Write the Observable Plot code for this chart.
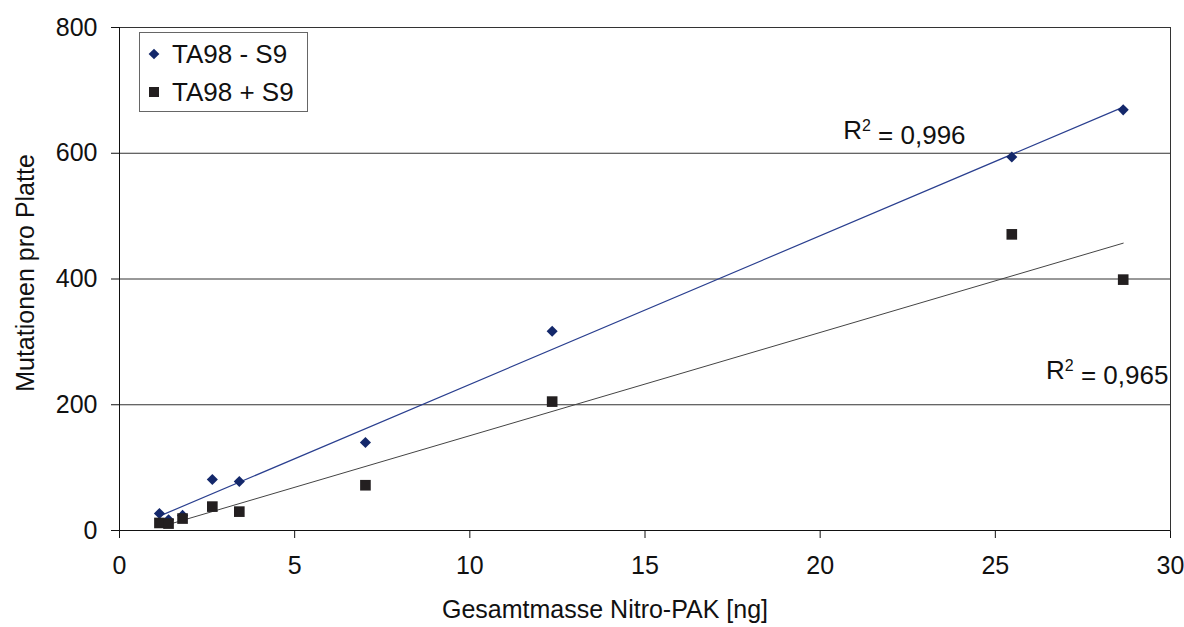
<!DOCTYPE html>
<html>
<head>
<meta charset="utf-8">
<script src="https://cdn.jsdelivr.net/npm/d3@7"></script>
<script src="https://cdn.jsdelivr.net/npm/@observablehq/plot@0.6"></script>
<style>
  html, body { margin: 0; padding: 0; background: #fff; }
  #wrap { position: relative; width: 1184px; height: 627px; font-family: "Liberation Sans", Arial, sans-serif; }
  #legend { position: absolute; left: 139px; top: 32px; width: 169px; height: 80px; border: 1px solid #666; background: #fff; box-sizing: border-box; font-size: 26px; color: #111; }
  .row { position: absolute; left: 7px; display: flex; align-items: center; height: 30px; }
  .row svg { margin-right: 11px; }
</style>
</head>
<body>
<div id="wrap"></div>
<script>
const mass = [1.14, 1.4, 1.8, 2.65, 3.42, 7.02, 12.35, 25.47, 28.65];
const minusS9 = [27, 17, 24, 81, 78, 140, 317, 594, 669];
const plusS9 = [12, 11, 19, 38, 30, 72, 205, 471, 399];
const seriesNames = ["TA98 - S9", "TA98 + S9"];
const r2Labels = ["R\u00b2 = 0,996", "R\u00b2 = 0,965"];
const r2Pos = [{x: 24.15, y: 636}, {x: 29.94, y: 254}];
const yTicks = [0, 200, 400, 600, 800];
const xTicks = [0, 5, 10, 15, 20, 25, 30];

const minusData = mass.map((m, i) => ({x: m, y: minusS9[i]}));
const plusData = mass.map((m, i) => ({x: m, y: plusS9[i]}));

const blue = "#14286b";
const dark = "#231f20";

const chart = Plot.plot({
  width: 1184,
  height: 627,
  marginLeft: 119,
  marginRight: 14,
  marginTop: 27,
  marginBottom: 97,
  style: {fontFamily: "Liberation Sans, Arial, sans-serif", fontSize: "25px", color: "#111", background: "#fff"},
  x: {domain: [0, 30], ticks: xTicks, tickSize: 8, tickPadding: 18, label: "Gesamtmasse Nitro-PAK [ng]", labelArrow: "none", labelAnchor: "center", labelOffset: 87},
  y: {domain: [0, 800], ticks: yTicks, tickSize: 8, tickPadding: 14, label: "Mutationen pro Platte", labelArrow: "none", labelAnchor: "center", labelOffset: 103},
  marks: [
    Plot.gridY(yTicks.filter(d => d > 0 && d < 800), {stroke: "#333", strokeOpacity: 1, strokeWidth: 1}),
    Plot.frame({stroke: "#333", strokeWidth: 1}),
    Plot.linearRegressionY(minusData, {x: "x", y: "y", stroke: "#2a3f8f", strokeWidth: 1.2, ci: 0}),
    Plot.linearRegressionY(plusData, {x: "x", y: "y", stroke: "#444", strokeWidth: 1, ci: 0}),
    Plot.dot(minusData, {x: "x", y: "y", symbol: "diamond2", r: 5, fill: blue, stroke: "none"}),
    Plot.dot(plusData, {x: "x", y: "y", symbol: "square", r: 6, fill: dark, stroke: "none"}),
    Plot.text(r2Labels, {x: (d, i) => r2Pos[i].x, y: (d, i) => r2Pos[i].y, text: d => d, textAnchor: "end", fontSize: 26, fill: "#111"}),
    Plot.ruleX([0], {stroke: "#111"}),
    Plot.ruleY([0], {stroke: "#111"})
  ]
});
const wrap = document.getElementById("wrap");
wrap.appendChild(chart);

// shift axis labels to where the reference centres them
const xl = chart.querySelector('[aria-label="x-axis label"]');
if (xl) xl.setAttribute("transform", (xl.getAttribute("transform") || "") + " translate(-40,0)");
const yl = chart.querySelector('[aria-label="y-axis label"]');
if (yl) yl.setAttribute("transform", (yl.getAttribute("transform") || "") + " translate(0,-6)");

// real superscript for R²
chart.querySelectorAll("text").forEach(t => {
  if (t.textContent.startsWith("R\u00b2")) {
    const rest = t.textContent.slice(2);
    while (t.firstChild) t.removeChild(t.firstChild);
    const ns = "http://www.w3.org/2000/svg";
    const a = document.createElementNS(ns, "tspan"); a.textContent = "R";
    const b = document.createElementNS(ns, "tspan"); b.textContent = "2";
    b.setAttribute("dy", "-0.5em"); b.setAttribute("font-size", "16");
    const c = document.createElementNS(ns, "tspan"); c.textContent = rest;
    c.setAttribute("dy", "0.5em");
    t.appendChild(a); t.appendChild(b); t.appendChild(c);
  }
});

const legend = document.createElement("div");
legend.id = "legend";
const symbols = [
  `<svg width="14" height="14"><rect x="3.2" y="3.2" width="7.6" height="7.6" fill="${blue}" transform="rotate(45 7 7)"/></svg>`,
  `<svg width="14" height="14"><rect x="2" y="2" width="10" height="10" fill="${dark}"/></svg>`
];
seriesNames.forEach((name, i) => {
  const row = document.createElement("div");
  row.className = "row";
  row.style.top = (i === 0 ? 6 : 44) + "px";
  row.innerHTML = symbols[i] + `<span>${name}</span>`;
  legend.appendChild(row);
});
wrap.appendChild(legend);
</script>
</body>
</html>
